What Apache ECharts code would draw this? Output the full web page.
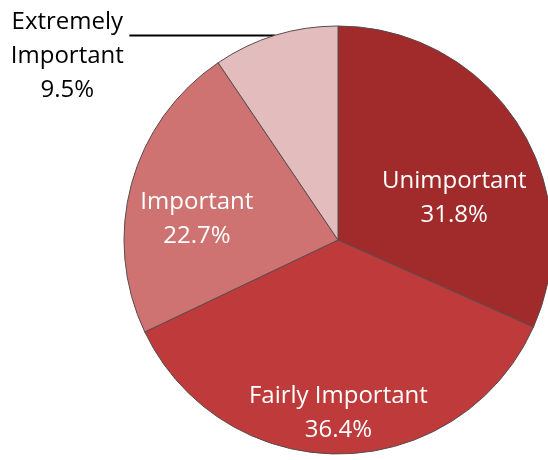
<!DOCTYPE html>
<html>
<head>
<meta charset="utf-8">
<script src="https://cdn.jsdelivr.net/npm/echarts@6/dist/echarts.min.js"></script>
<style>
  html, body { margin: 0; padding: 0; background: #fff; }
  #chart { width: 548px; height: 460px; }
</style>
</head>
<body>
<div id="chart"></div>
<script>
// data
var categories = ['Unimportant', 'Fairly Important', 'Important', 'Extremely\nImportant'];
var percents = [31.8, 36.4, 22.7, 9.5];

// styling per slice
var colors = ['#a12b2b', '#bf3a3a', '#cf7272', '#e3bcbd'];
var labelOffsets = [[24, 18], [-1, 63], [-35, 8], [0, 0]];

var chartDom = document.getElementById('chart');
var myChart = echarts.init(chartDom);

var seriesData = categories.map(function (name, i) {
  var item = {
    name: name,
    value: percents[i],
    itemStyle: { color: colors[i] },
    label: { offset: labelOffsets[i] }
  };
  if (i === 3) {
    item.label = {
      position: 'outside',
      color: '#000',
      align: 'center'
    };
    item.labelLine = {
      show: true,
      length: 0,
      length2: 146,
      lineStyle: { color: '#000', width: 2 }
    };
  }
  return item;
});

var option = {
  animation: false,
  series: [
    {
      type: 'pie',
      center: [338, 240],
      radius: 214,
      startAngle: 90,
      clockwise: true,
      itemStyle: {
        borderColor: '#5a4a4a',
        borderWidth: 1
      },
      label: {
        show: true,
        position: 'inside',
        color: '#fff',
        fontFamily: 'Open Sans',
        fontSize: 24,
        lineHeight: 34,
        align: 'center',
        formatter: function (p) {
          return p.name + '\n' + p.value.toFixed(1) + '%';
        }
      },
      labelLine: { show: false },
      labelLayout: function (params) {
        if (params.dataIndex !== 3) return {};
        var pts = params.labelLinePoints;
        var end = pts[pts.length - 1];
        return {
          x: end[0] - 62,
          y: end[1] + 21,
          align: 'center',
          verticalAlign: 'middle',
          labelLinePoints: pts
        };
      },
      emphasis: { disabled: true },
      data: seriesData
    }
  ]
};
option && myChart.setOption(option);
</script>
</body>
</html>
